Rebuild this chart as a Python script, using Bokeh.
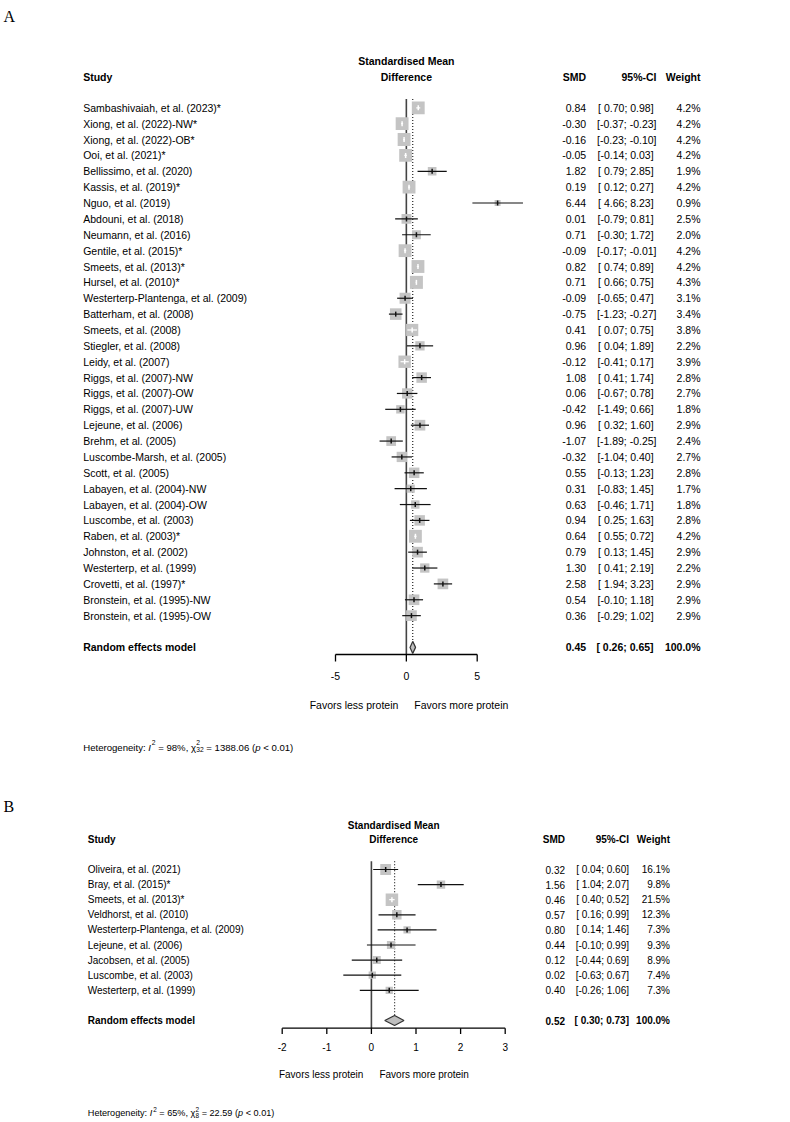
import numpy as np
from bokeh.plotting import figure
from bokeh.models import Range1d
from bokeh.layouts import column
from bokeh.embed import file_html
from bokeh.resources import INLINE
from bokeh.core.properties import value

# ---------------- Panel A data ----------------
studies_a = ["Sambashivaiah, et al. (2023)*", "Xiong, et al. (2022)-NW*", "Xiong, et al. (2022)-OB*",
             "Ooi, et al. (2021)*", "Bellissimo, et al. (2020)", "Kassis, et al. (2019)*",
             "Nguo, et al. (2019)", "Abdouni, et al. (2018)", "Neumann, et al. (2016)",
             "Gentile, et al. (2015)*", "Smeets, et al. (2013)*", "Hursel, et al. (2010)*",
             "Westerterp-Plantenga, et al. (2009)", "Batterham, et al. (2008)", "Smeets, et al. (2008)",
             "Stiegler, et al. (2008)", "Leidy, et al. (2007)", "Riggs, et al. (2007)-NW",
             "Riggs, et al. (2007)-OW", "Riggs, et al. (2007)-UW", "Lejeune, et al. (2006)",
             "Brehm, et al. (2005)", "Luscombe-Marsh, et al. (2005)", "Scott, et al. (2005)",
             "Labayen, et al. (2004)-NW", "Labayen, et al. (2004)-OW", "Luscombe, et al. (2003)",
             "Raben, et al. (2003)*", "Johnston, et al. (2002)", "Westerterp, et al. (1999)",
             "Crovetti, et al. (1997)*", "Bronstein, et al. (1995)-NW", "Bronstein, et al. (1995)-OW"]
smd_a = [0.84, -0.30, -0.16, -0.05, 1.82, 0.19, 6.44, 0.01, 0.71, -0.09, 0.82, 0.71, -0.09, -0.75,
         0.41, 0.96, -0.12, 1.08, 0.06, -0.42, 0.96, -1.07, -0.32, 0.55, 0.31, 0.63, 0.94, 0.64,
         0.79, 1.30, 2.58, 0.54, 0.36]
lo_a = [0.70, -0.37, -0.23, -0.14, 0.79, 0.12, 4.66, -0.79, -0.30, -0.17, 0.74, 0.66, -0.65, -1.23,
        0.07, 0.04, -0.41, 0.41, -0.67, -1.49, 0.32, -1.89, -1.04, -0.13, -0.83, -0.46, 0.25, 0.55,
        0.13, 0.41, 1.94, -0.10, -0.29]
hi_a = [0.98, -0.23, -0.10, 0.03, 2.85, 0.27, 8.23, 0.81, 1.72, -0.01, 0.89, 0.75, 0.47, -0.27,
        0.75, 1.89, 0.17, 1.74, 0.78, 0.66, 1.60, -0.25, 0.40, 1.23, 1.45, 1.71, 1.63, 0.72,
        1.45, 2.19, 3.23, 1.18, 1.02]
w_a = [4.2, 4.2, 4.2, 4.2, 1.9, 4.2, 0.9, 2.5, 2.0, 4.2, 4.2, 4.3, 3.1, 3.4, 3.8, 2.2, 3.9, 2.8,
       2.7, 1.8, 2.9, 2.4, 2.7, 2.8, 1.7, 1.8, 2.8, 4.2, 2.9, 2.2, 2.9, 2.9, 2.9]
summary_a = [0.45, 0.26, 0.65]
i2_a, q_a, df_a, p_a = "98%", "1388.06", "32", "< 0.01"
ticks_a = [-5, 0, 5]
tick_labels_a = ["-5", "0", "5"]

# ---------------- Panel B data ----------------
studies_b = ["Oliveira, et al. (2021)", "Bray, et al. (2015)*", "Smeets, et al. (2013)*",
             "Veldhorst, et al. (2010)", "Westerterp-Plantenga, et al. (2009)", "Lejeune, et al. (2006)",
             "Jacobsen, et al. (2005)", "Luscombe, et al. (2003)", "Westerterp, et al. (1999)"]
smd_b = [0.32, 1.56, 0.46, 0.57, 0.80, 0.44, 0.12, 0.02, 0.40]
lo_b = [0.04, 1.04, 0.40, 0.16, 0.14, -0.10, -0.44, -0.63, -0.26]
hi_b = [0.60, 2.07, 0.52, 0.99, 1.46, 0.99, 0.69, 0.67, 1.06]
w_b = [16.1, 9.8, 21.5, 12.3, 7.3, 9.3, 8.9, 7.4, 7.3]
summary_b = [0.52, 0.30, 0.73]
i2_b, q_b, df_b, p_b = "65%", "22.59", "8", "< 0.01"
ticks_b = [-2, -1, 0, 1, 2, 3]
tick_labels_b = ["-2", "-1", "0", "1", "2", "3"]

labels_left = "Favors less protein"
labels_right = "Favors more protein"

FONT = "Liberation Sans"
SERIF = "Liberation Serif"

# Arial / Liberation Sans advance widths (per 1000 em), used for inline text layout
AW = {' ': 278, '=': 584, '%': 889, ',': 278, '(': 333, ')': 333, '<': 584, '.': 278, ':': 278,
      '-': 333, 'H': 722, 'I': 278, 'e': 556, 't': 278, 'r': 333, 'o': 556, 'g': 556, 'n': 556,
      'i': 222, 'y': 500, 'p': 556, 'χ': 500}


def tw(s, size):
    return sum(AW.get(c, 556) for c in s) / 1000.0 * size


def fmt_ci(lo, hi):
    ls = ["%.2f" % v for v in lo]
    hs = ["%.2f" % v for v in hi]
    nl = max(len(s) for s in ls)
    nh = max(len(s) for s in hs)
    return ["[%s; %s]" % (a.rjust(nl), b.rjust(nh)) for a, b in zip(ls, hs)]


def build(label, studies, smd, lo, hi, wt, summ, i2, q, df, pv, ticks, tick_labels, L):
    X = lambda px: (px - L["x0"]) / L["xs"]
    Y = lambda py: (py - L["y0"]) / L["ys"]
    fsz = "%.2fpx" % L["fs"]
    n = len(studies)
    p = figure(width=790, height=L["bot"] - L["top"],
               x_range=Range1d(X(0), X(790)), y_range=Range1d(Y(L["bot"]), Y(L["top"])),
               output_backend="svg", toolbar_location=None, title=None,
               x_axis_location=None, y_axis_location=None, min_border=0,
               outline_line_color=None, background_fill_color="white", border_fill_color="white")
    p.grid.visible = False

    def txt(x, y, t, size=fsz, align="left", style="normal", font=FONT, baseline="middle"):
        if isinstance(t, str):
            t = [t]
        p.text(x=x, y=y, text=t, text_font=value(font), text_font_size=size,
               text_font_style=style, text_align=align, text_baseline=baseline, text_color="black")

    smd = np.array(smd, float)
    lo = np.array(lo, float)
    hi = np.array(hi, float)
    wt = np.array(wt, float)
    rows = np.arange(n)
    srow = n + 1
    s_est, s_lo, s_hi = summ
    tk = np.array(ticks, float)
    top = -0.55
    ax_y = Y(L["axis"])
    dh = L["dh"] / L["ys"]

    # reference lines
    p.segment(x0=[0], y0=[top], x1=[0], y1=[ax_y], line_color="#444444", line_width=1.6)
    p.segment(x0=[s_est], y0=[top], x1=[s_est], y1=[srow - dh], line_color="#222222",
              line_width=1.2, line_dash="1 2")

    # forest axis
    p.segment(x0=[tk[0]], y0=[ax_y], x1=[tk[-1]], y1=[ax_y], line_color="black", line_width=1.3)
    p.segment(x0=tk, y0=ax_y, x1=tk, y1=Y(L["tickend"]), line_color="black", line_width=1.3)
    txt(tk, Y(L["ticklab"]), tick_labels, align="center")

    # study squares + CIs
    sizes = L["sq"] * np.sqrt(wt / wt.max())
    p.scatter(smd, rows, size=sizes, marker="square", fill_color="#c4c4c4", line_color=None)
    inside = ((hi - smd) * L["xs"] <= sizes / 2) & ((smd - lo) * L["xs"] <= sizes / 2)
    cols = np.where(inside, "white", "#111111").tolist()
    p.segment(x0=lo, y0=rows, x1=hi, y1=rows, line_color=cols, line_width=1.2)
    p.scatter(smd, rows, marker="dash", angle=np.pi / 2, size=5, line_color=cols, line_width=1.5)

    # summary diamond
    p.patch([s_lo, s_est, s_hi, s_est], [srow, srow - dh, srow, srow + dh],
            fill_color="#bebebe", line_color="#333333", line_width=1.2)

    # headers
    hc = (tk[0] + tk[-1]) / 2
    txt(X(L["lx"]), Y(L["h2"]), "Study", style="bold")
    txt(hc, Y(L["h1"]), "Standardised Mean", align="center", style="bold")
    txt(hc, Y(L["h2"]), "Difference", align="center", style="bold")
    txt(X(L["c_smd"]), Y(L["h2"]), "SMD", align="right", style="bold")
    txt(X(L["c_ci"]), Y(L["h2"]), "95%-CI", align="right", style="bold")
    txt(X(L["c_w"]), Y(L["h2"]), "Weight", align="right", style="bold")

    # rows
    cis = fmt_ci(list(lo) + [s_lo], list(hi) + [s_hi])
    txt(X(L["lx"]), rows, list(studies))
    txt(X(L["c_smd"]), rows, ["%.2f" % v for v in smd], align="right")
    txt(X(L["c_ci"]), rows, cis[:n], align="right")
    txt(X(L["c_w"]), rows, ["%.1f%%" % v for v in wt], align="right")

    # summary row
    txt(X(L["lx"]), [srow], "Random effects model", style="bold")
    txt(X(L["c_smd"]), [srow], "%.2f" % s_est, align="right", style="bold")
    txt(X(L["c_ci"]), [srow], cis[n], align="right", style="bold")
    txt(X(L["c_w"]), [srow], "100.0%", align="right", style="bold")

    # favours labels
    off = 8.0 / L["xs"]
    txt([0 - off], [Y(L["fav"])], labels_left, align="right")
    txt([0 + off], [Y(L["fav"])], labels_right, align="left")

    # heterogeneity line (pieces without leading/trailing blanks; spacing advanced manually)
    f = L["hfs"]
    small = 0.7 * f
    base = L["het"]
    sp = tw(" ", f)
    state = {"cur": L["hx"]}

    def put(s, size, py, style="normal"):
        txt([X(state["cur"])], [Y(py)], s, size="%.2fpx" % size, style=style, baseline="alphabetic")

    def adv(w):
        state["cur"] += w

    put("Heterogeneity:", f, base); adv(tw("Heterogeneity:", f) + sp)
    put("I", f, base, "italic"); adv(tw("I", f) + 0.8)
    put("2", small, base - 0.42 * f); adv(tw("2", small) + sp)
    s = "= %s," % i2
    put(s, f, base); adv(tw(s, f) + sp)
    put("χ", f, base); adv(tw("χ", f) + 0.4)
    put("2", small, base - 0.42 * f)
    put(df, small, base + 0.28 * f); adv(max(tw("2", small), tw(df, small)) + sp)
    s = "= %s (" % q
    put(s, f, base); adv(tw(s, f))
    put("p", f, base, "italic"); adv(tw("p", f) + sp)
    put("%s)" % pv, f, base)

    # panel letter
    txt([X(L["lab_x"])], [Y(L["lab"])], label, size="16px", font=SERIF, baseline="alphabetic")
    return p


LA = dict(x0=405.85, xs=14.17, y0=107.3, ys=15.87, top=0, bot=780, fs=10.5, lx=82.7, hx=82.7,
          c_smd=585.7, c_ci=656.0, c_w=700.0, axis=654.0, tickend=661.0, ticklab=675.0,
          fav=704.0, het=746.5, hfs=9.6, lab=16.0, lab_x=3.0, dh=6.0, sq=13.0, h1=60.0, h2=76.0)
LB = dict(x0=370.9, xs=44.6, y0=869.0, ys=15.1, top=780, bot=1120, fs=10.0, lx=87.3, hx=87.3,
          c_smd=564.5, c_ci=628.5, c_w=669.5, axis=1027.7, tickend=1033.5, ticklab=1046.7,
          fav=1074.3, het=1112.5, hfs=9.15, lab=806.0, lab_x=3.0, dh=5.0, sq=12.5, h1=825.0, h2=839.3)

pa = build("A", studies_a, smd_a, lo_a, hi_a, w_a, summary_a, i2_a, q_a, df_a, p_a,
           ticks_a, tick_labels_a, LA)
pb = build("B", studies_b, smd_b, lo_b, hi_b, w_b, summary_b, i2_b, q_b, df_b, p_b,
           ticks_b, tick_labels_b, LB)

layout = column(pa, pb)
open("out.html", "w").write(file_html(layout, INLINE))
